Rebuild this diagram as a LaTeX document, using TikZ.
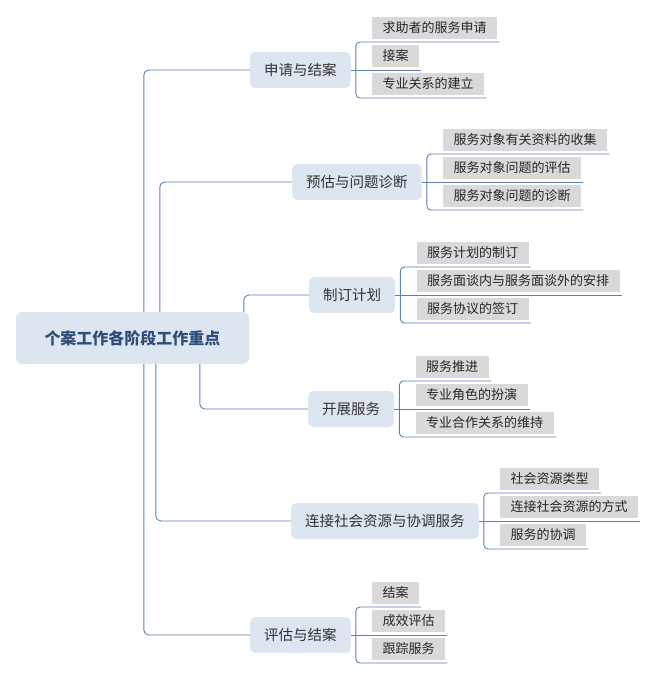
\documentclass[tikz,border=0pt]{standalone}
\usepackage{fontspec}
\setmainfont{Noto Sans CJK SC}
\usetikzlibrary{positioning}
\definecolor{linkblue}{HTML}{5B80B2}
\definecolor{topicfill}{HTML}{DCE5F0}
\definecolor{leafgray}{HTML}{D9D9D9}
\definecolor{roottext}{HTML}{2E4D78}
\tikzset{
    root/.style={fill=topicfill, rounded corners=6pt, minimum width=233pt, minimum height=52pt, font=\fontsize{16}{18}\selectfont\bfseries, text=roottext},
    topic/.style={fill=topicfill, rounded corners=5pt, minimum height=36pt, inner xsep=14pt, anchor=west, font=\fontsize{14.5}{16}\selectfont, text=black!80},
    leaf/.style={fill=leafgray, minimum height=22pt, inner xsep=10.5pt, anchor=south west, font=\fontsize{13}{15}\selectfont, text=black!85},
    link/.style={draw=linkblue, line width=0.9pt, rounded corners=5pt}
}

\begin{document}
\begin{tikzpicture}[x=1pt, y=-1pt]
\useasboundingbox (0,0) rectangle (657,678);

\node[root] (root) at (132.5,338) {个案工作各阶段工作重点};

% first level
\node[topic] (p1) at (250,70) {申请与结案};
\node[topic] (p2) at (292,182) {预估与问题诊断};
\node[topic] (p3) at (309,295) {制订计划};
\node[topic] (p4) at (308,409) {开展服务};
\node[topic] (p5) at (291,521) {连接社会资源与协调服务};
\node[topic] (p6) at (250,635) {评估与结案};

\draw[link] ([xshift=128]root.north west) |- (p1.west);
\draw[link] ([xshift=144]root.north west) |- (p2.west);
\draw[link] ([xshift=228]root.north west) |- (p3.west);
\draw[link] ([xshift=184]root.south west) |- (p4.west);
\draw[link] ([xshift=140]root.south west) |- (p5.west);
\draw[link] ([xshift=128]root.south west) |- (p6.west);

% second level
\node[leaf] (l11) at ([shift={(21,-31)}]p1.east) {求助者的服务申请};
\node[leaf] (l12) at ([shift={(21,-3)}]p1.east) {接案};
\node[leaf] (l13) at ([shift={(21,25)}]p1.east) {专业关系的建立};

\node[leaf] (l21) at ([shift={(21,-31)}]p2.east) {服务对象有关资料的收集};
\node[leaf] (l22) at ([shift={(21,-3)}]p2.east) {服务对象问题的评估};
\node[leaf] (l23) at ([shift={(21,25)}]p2.east) {服务对象问题的诊断};

\node[leaf] (l31) at ([shift={(21,-31)}]p3.east) {服务计划的制订};
\node[leaf] (l32) at ([shift={(21,-3)}]p3.east) {服务面谈内与服务面谈外的安排};
\node[leaf] (l33) at ([shift={(21,25)}]p3.east) {服务协议的签订};

\node[leaf] (l41) at ([shift={(21,-31)}]p4.east) {服务推进};
\node[leaf] (l42) at ([shift={(21,-3)}]p4.east) {专业角色的扮演};
\node[leaf] (l43) at ([shift={(21,25)}]p4.east) {专业合作关系的维持};

\node[leaf] (l51) at ([shift={(21,-31)}]p5.east) {社会资源类型};
\node[leaf] (l52) at ([shift={(21,-3)}]p5.east) {连接社会资源的方式};
\node[leaf] (l53) at ([shift={(21,25)}]p5.east) {服务的协调};

\node[leaf] (l61) at ([shift={(21,-31)}]p6.east) {结案};
\node[leaf] (l62) at ([shift={(21,-3)}]p6.east) {成效评估};
\node[leaf] (l63) at ([shift={(21,25)}]p6.east) {跟踪服务};

\foreach \g in {1,...,6} {
    \draw[link] (p\g.east) -- ([shift={(2,3)}]l\g2.south east);
    \draw[link, rounded corners=4pt] ([shift={(2,3)}]l\g1.south east) -| ([xshift=5]p\g.east) |- ([shift={(2,3)}]l\g3.south east);
}
\end{tikzpicture}
\end{document}
